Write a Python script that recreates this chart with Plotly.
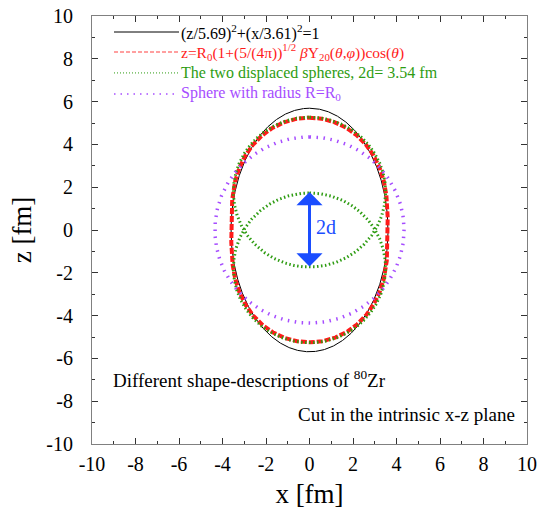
import numpy as np
import plotly.graph_objects as go

# ---- parameters ----
ellipse_a_z = 5.69      # semi-axis along z
ellipse_a_x = 3.61      # semi-axis along x
R0_deformed = 4.15      # R0 used in the deformed (Y20) shape
beta2 = 0.666           # quadrupole deformation
half_d = 1.77           # half of the sphere displacement (2d = 3.54 fm)
R_disp = 3.50           # radius of each displaced sphere
R0_sphere = 4.35        # radius of the reference sphere

x_ticks = [-10, -8, -6, -4, -2, 0, 2, 4, 6, 8, 10]
z_ticks = [-10, -8, -6, -4, -2, 0, 2, 4, 6, 8, 10]

legend_labels = [
    "(z/5.69)<sup>2</sup>+(x/3.61)<sup>2</sup>=1",
    "z=R<sub>0</sub>(1+(5/(4π))<sup>1/2</sup> <i>β</i>Y<sub>20</sub>(<i>θ</i>,<i>φ</i>))cos(<i>θ</i>)",
    "The two displaced spheres, 2d= 3.54 fm",
    "Sphere with radius R=R<sub>0</sub>",
]

BLACK = "#000000"
RED = "#ff1a1a"
RED_LEG = "#ff8080"
GREEN = "#2e9c12"
PURPLE = "#a64dff"
BLUE = "#1a4dff"
FONT = "Liberation Serif, Times New Roman, serif"

theta = np.linspace(0, 2 * np.pi, 1441)

# ellipse
xe = ellipse_a_x * np.sin(theta)
ze = ellipse_a_z * np.cos(theta)

# deformed shape
Y20 = np.sqrt(5 / (16 * np.pi)) * (3 * np.cos(theta) ** 2 - 1)
r_def = R0_deformed * (1 + np.sqrt(5 / (4 * np.pi)) * beta2 * Y20)
xr = r_def * np.sin(theta)
zr = r_def * np.cos(theta)

# displaced spheres
xg1 = R_disp * np.sin(theta)
zg1 = half_d + R_disp * np.cos(theta)
xg2 = R_disp * np.sin(theta)
zg2 = -half_d + R_disp * np.cos(theta)

# reference sphere
xp = R0_sphere * np.sin(theta)
zp = R0_sphere * np.cos(theta)

fig = go.Figure()
fig.add_trace(go.Scatter(x=xe, y=ze, mode="lines", line=dict(color=BLACK, width=1)))
fig.add_trace(go.Scatter(x=xr, y=zr, mode="lines", line=dict(color=RED, width=4, dash="6px,2px")))
fig.add_trace(go.Scatter(x=xg1, y=zg1, mode="lines", line=dict(color=GREEN, width=3, dash="1.5px,2.5px")))
fig.add_trace(go.Scatter(x=xg2, y=zg2, mode="lines", line=dict(color=GREEN, width=3, dash="1.5px,2.5px")))
fig.add_trace(go.Scatter(x=xp, y=zp, mode="lines", line=dict(color=PURPLE, width=3.5, dash="1.5px,5.5px")))

# manual legend
leg_line_y = [0.9626, 0.916, 0.867, 0.818]
leg_text_y = [0.9626, 0.916, 0.867, 0.818]
leg_sizes = [16, 15.5, 16, 16]
leg_styles = [
    dict(color=BLACK, width=1, dash="solid"),
    dict(color=RED_LEG, width=1.5, dash="4px,2px"),
    dict(color=GREEN, width=1, dash="1px,2px"),
    dict(color=PURPLE, width=1.5, dash="1.5px,5px"),
]
leg_text_colors = [BLACK, RED, GREEN, PURPLE]
for yl, yt, fs, st, lab, tc in zip(leg_line_y, leg_text_y, leg_sizes, leg_styles,
                                   legend_labels, leg_text_colors):
    fig.add_shape(type="line", xref="paper", yref="paper", x0=0.0506, x1=0.2, y0=yl, y1=yl,
                  line=st)
    fig.add_annotation(xref="paper", yref="paper", x=0.199, y=yt, text=lab, showarrow=False,
                       xanchor="left", yanchor="middle", font=dict(family=FONT, size=fs, color=tc))

# 2d arrow
fig.add_annotation(x=0, y=half_d, ax=0, ay=-half_d, xref="x", yref="y", axref="x", ayref="y",
                   text="", showarrow=True, arrowhead=1, arrowside="end+start",
                   arrowwidth=3, arrowsize=1.45, arrowcolor=BLUE, standoff=0, startstandoff=0)
fig.add_annotation(x=0.2, y=0.15, xref="x", yref="y", text="2d", showarrow=False,
                   xanchor="left", yanchor="middle", font=dict(family=FONT, size=20, color=BLUE))

fig.add_annotation(xref="paper", yref="paper", x=0.043, y=0.152,
                   text="Different shape-descriptions of <sup>80</sup>Zr", showarrow=False,
                   xanchor="left", yanchor="middle", font=dict(family=FONT, size=19, color=BLACK))
fig.add_annotation(xref="paper", yref="paper", x=0.976, y=0.07,
                   text="Cut in the intrinsic x-z plane", showarrow=False,
                   xanchor="right", yanchor="middle", font=dict(family=FONT, size=19, color=BLACK))

axis_common = dict(
    range=[-10, 10], ticks="inside", ticklen=6, tickwidth=1, tickcolor="#333333",
    showline=True, linecolor="#808080", linewidth=1, mirror="ticks",
    showgrid=False, zeroline=False, automargin=False, ticklabeloverflow="allow",
    minor=dict(ticks="inside", ticklen=3, dtick=1, tickcolor="#333333", showgrid=False),
    tickfont=dict(family=FONT, size=20, color=BLACK),
)
fig.update_xaxes(**axis_common, tickvals=x_ticks, ticktext=[str(v) for v in x_ticks],
                 title=dict(text="x [fm]", font=dict(family=FONT, size=27, color=BLACK), standoff=10),
                 ticklabelstandoff=2)
fig.update_yaxes(**axis_common, tickvals=z_ticks, ticktext=[str(v) for v in z_ticks],
                 title=dict(text="z [fm]", font=dict(family=FONT, size=27, color=BLACK), standoff=6),
                 ticklabelstandoff=14)

fig.update_layout(
    width=539, height=519, showlegend=False, hovermode=False,
    margin=dict(l=92, r=12, t=16, b=75),
    paper_bgcolor="white", plot_bgcolor="white",
    font=dict(family=FONT),
)

# remove the default page margin so the figure sits at the window's top-left corner
fig.write_html("out.html", config={"displayModeBar": False},
               post_script="document.body.style.margin='0px';")
